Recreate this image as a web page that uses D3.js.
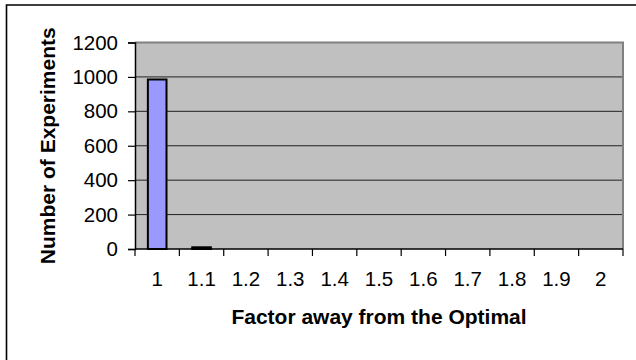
<!DOCTYPE html>
<html>
<head>
<meta charset="utf-8">
<script src="https://cdn.jsdelivr.net/npm/d3@7"></script>
<style>
  html, body { margin: 0; padding: 0; background: #fff; }
  svg { display: block; font-family: Arial, "Liberation Sans", sans-serif; }
</style>
</head>
<body>
<svg id="chart" width="636" height="360"></svg>
<script>
// Histogram: how far each experiment's result was from the optimum
const factors = ["1", "1.1", "1.2", "1.3", "1.4", "1.5", "1.6", "1.7", "1.8", "1.9", "2"];
const counts  = [985, 10, 0, 0, 0, 0, 0, 0, 0, 0, 0];
const yTicks  = [0, 200, 400, 600, 800, 1000, 1200];

const svg = d3.select("#chart");
const W = 636, H = 360;
const plot = { left: 135, right: 623, top: 42.5, bottom: 249 };
const tickFont = 20.5, titleFont = 21;

// outer frame (top and left edges fall inside the page)
svg.append("path")
  .attr("d", `M6.5,${H} V5 H${W}`)
  .attr("fill", "none").attr("stroke", "#000").attr("stroke-width", 1.6);

const x = d3.scaleBand().domain(factors).range([plot.left, plot.right]).paddingInner(0).paddingOuter(0);
const y = d3.scaleLinear().domain([0, 1200]).range([plot.bottom, plot.top]);

// plot area background
svg.append("rect")
  .attr("x", plot.left).attr("y", plot.top)
  .attr("width", plot.right - plot.left).attr("height", plot.bottom - plot.top)
  .attr("fill", "#c0c0c0");

// horizontal gridlines
svg.append("g").selectAll("line")
  .data(yTicks.filter(t => t > 0 && t < 1200))
  .join("line")
  .attr("x1", plot.left).attr("x2", plot.right)
  .attr("y1", d => y(d)).attr("y2", d => y(d))
  .attr("stroke", "#222").attr("stroke-width", 1);

// plot border on top and right
svg.append("path")
  .attr("d", `M${plot.left},${plot.top} H${plot.right} V${plot.bottom}`)
  .attr("fill", "none").attr("stroke", "#808080").attr("stroke-width", 2);

// bars
const barW = x.bandwidth() * 0.42;
svg.append("g").selectAll("rect")
  .data(factors.map((f, i) => ({ f, v: counts[i] })).filter(d => d.v > 0))
  .join("rect")
  .attr("x", d => x(d.f) + (x.bandwidth() - barW) / 2)
  .attr("y", d => y(d.v))
  .attr("width", barW)
  .attr("height", d => y(0) - y(d.v))
  .attr("fill", "#9999ff")
  .attr("stroke", "#000").attr("stroke-width", 2);

// y axis
const yAxis = svg.append("g")
  .attr("transform", `translate(${plot.left},0)`)
  .call(d3.axisLeft(y).tickValues(yTicks).tickSize(7).tickPadding(10).tickFormat(d3.format("d")));
yAxis.attr("font-size", null).attr("font-family", null);
yAxis.select(".domain").attr("stroke", "#000").attr("stroke-width", 1.5);
yAxis.selectAll(".tick line").attr("stroke", "#000").attr("stroke-width", 1.2);
yAxis.selectAll(".tick text").attr("font-size", tickFont).attr("fill", "#000");

// x axis: ticks on category boundaries, labels centred in each band
const xBounds = factors.map(f => x(f)).concat([plot.right]);
const xAxisG = svg.append("g");
xAxisG.append("line")
  .attr("x1", plot.left).attr("x2", plot.right)
  .attr("y1", plot.bottom).attr("y2", plot.bottom)
  .attr("stroke", "#000").attr("stroke-width", 1.5);
xAxisG.selectAll("line.tk").data(xBounds).join("line")
  .attr("class", "tk")
  .attr("x1", d => d).attr("x2", d => d)
  .attr("y1", plot.bottom).attr("y2", plot.bottom + 7)
  .attr("stroke", "#000").attr("stroke-width", 1.2);
xAxisG.selectAll("text").data(factors).join("text")
  .attr("x", d => x(d) + x.bandwidth() / 2)
  .attr("y", 286)
  .attr("text-anchor", "middle")
  .attr("font-size", tickFont).attr("fill", "#000")
  .text(d => d);

// axis titles
svg.append("text")
  .attr("x", 379).attr("y", 324)
  .attr("text-anchor", "middle")
  .attr("font-size", titleFont).attr("font-weight", "bold")
  .text("Factor away from the Optimal");

svg.append("text")
  .attr("transform", `translate(55,${(plot.top + plot.bottom) / 2}) rotate(-90)`)
  .attr("text-anchor", "middle")
  .attr("font-size", titleFont).attr("font-weight", "bold")
  .text("Number of Experiments");
</script>
</body>
</html>
